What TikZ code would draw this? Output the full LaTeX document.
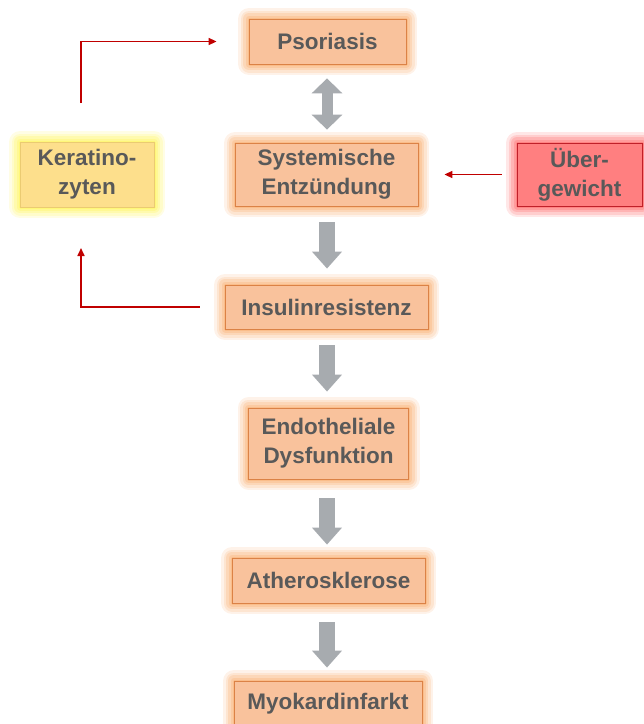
\documentclass[tikz,border=0pt]{standalone}
\usepackage{fontspec}
\setmainfont{Liberation Sans}
\usetikzlibrary{arrows.meta,calc}
\definecolor{boxfill}{HTML}{F9C29C}
\definecolor{boxline}{HTML}{DB8246}
\definecolor{boxglow}{HTML}{F79646}
\definecolor{txtgray}{HTML}{595959}
\definecolor{kerfill}{HTML}{FDDF8C}
\definecolor{kerline}{HTML}{EBCB72}
\definecolor{kerglow}{HTML}{FFF22A}
\definecolor{uebfill}{HTML}{FF7F80}
\definecolor{uebline}{HTML}{C0202A}
\definecolor{uebglow}{HTML}{FF3B3B}
\definecolor{redline}{HTML}{C00000}
\definecolor{arrowgray}{HTML}{A7ABAF}
\tikzset{
  glowfx/.style={
    preaction={draw=#1, line width=22pt, opacity=0.12, line join=round},
    preaction={draw=#1, line width=17pt, opacity=0.15, line join=round},
    preaction={draw=#1, line width=12pt, opacity=0.18, line join=round},
    preaction={draw=#1, line width=7pt, opacity=0.2, line join=round},
    preaction={draw=#1, line width=3pt, opacity=0.25, line join=round}},
  basebox/.style={rectangle, inner sep=0pt, align=center, text=txtgray,
    font=\fontsize{22.5}{29}\selectfont\bfseries, line width=0.8pt},
  obox/.style={basebox, fill=boxfill, draw=boxline, glowfx=boxglow},
  kbox/.style={basebox, fill=kerfill, draw=kerline, glowfx=kerglow},
  ubox/.style={basebox, fill=uebfill, draw=uebline, glowfx=uebglow},
  redarrow/.style={draw=redline, line width=1.6pt,
    -{Triangle[length=8pt,width=7pt]}},
  grayarrow/.style={draw=arrowgray, line width=16pt, line cap=butt,
    -{Triangle[length=17pt,width=29pt]}},
  graydouble/.style={draw=arrowgray, line width=11pt, line cap=butt,
    {Triangle[length=15pt,width=30pt]}-{Triangle[length=15pt,width=30pt]}}
}
\begin{document}
\begin{tikzpicture}[x=1pt,y=-1pt]
\useasboundingbox (0,0) rectangle (644,724);
\coordinate (axis) at (327,0);
\node[obox, minimum width=157pt, minimum height=45pt] (pso) at (327.5,41.5) {Psoriasis};
\node[obox, minimum width=183pt, minimum height=63pt] (sys) at (326.5,174.5) {Systemische\\Entzündung};
\node[kbox, minimum width=134pt, minimum height=65pt] (ker) at (87,174.5) {Keratino-\\zyten};
\node[ubox, minimum width=125pt, minimum height=63pt] (ueb) at (579.5,174.5) {Über-\\gewicht};
\node[obox, minimum width=203pt, minimum height=44pt] (ins) at (326.5,307) {Insulinresistenz};
\node[obox, minimum width=160pt, minimum height=71pt] (endo) at (328.5,443.5) {Endotheliale\\Dysfunktion};
\node[obox, minimum width=193pt, minimum height=45pt] (ath) at (328.5,580.5) {Atherosklerose};
\node[obox, minimum width=188pt, minimum height=45pt] (myo) at (328,703.5) {Myokardinfarkt};

\draw[graydouble] ($(pso.south -| axis)+(0,14)$) -- ($(sys.north -| axis)+(0,-13)$);
\draw[grayarrow] ($(sys.south -| axis)+(0,16)$) -- ($(ins.north -| axis)+(0,-16)$);
\draw[grayarrow] ($(ins.south -| axis)+(0,16)$) -- ($(endo.north -| axis)+(0,-16)$);
\draw[grayarrow] ($(endo.south -| axis)+(0,19)$) -- ($(ath.north -| axis)+(0,-13)$);
\draw[grayarrow] ($(ath.south -| axis)+(0,19)$) -- ($(myo.north -| axis)+(0,-13)$);

\coordinate (kup) at (81,103);
\coordinate (kdown) at (81,248);
\draw[redarrow] (kup) |- ([xshift=-32pt]pso.west);
\draw[redarrow] ([xshift=-25pt]ins.west) -| (kdown);
\draw[redarrow] ([xshift=-15pt]ueb.west) -- ([xshift=26pt]sys.east);
\end{tikzpicture}
\end{document}
